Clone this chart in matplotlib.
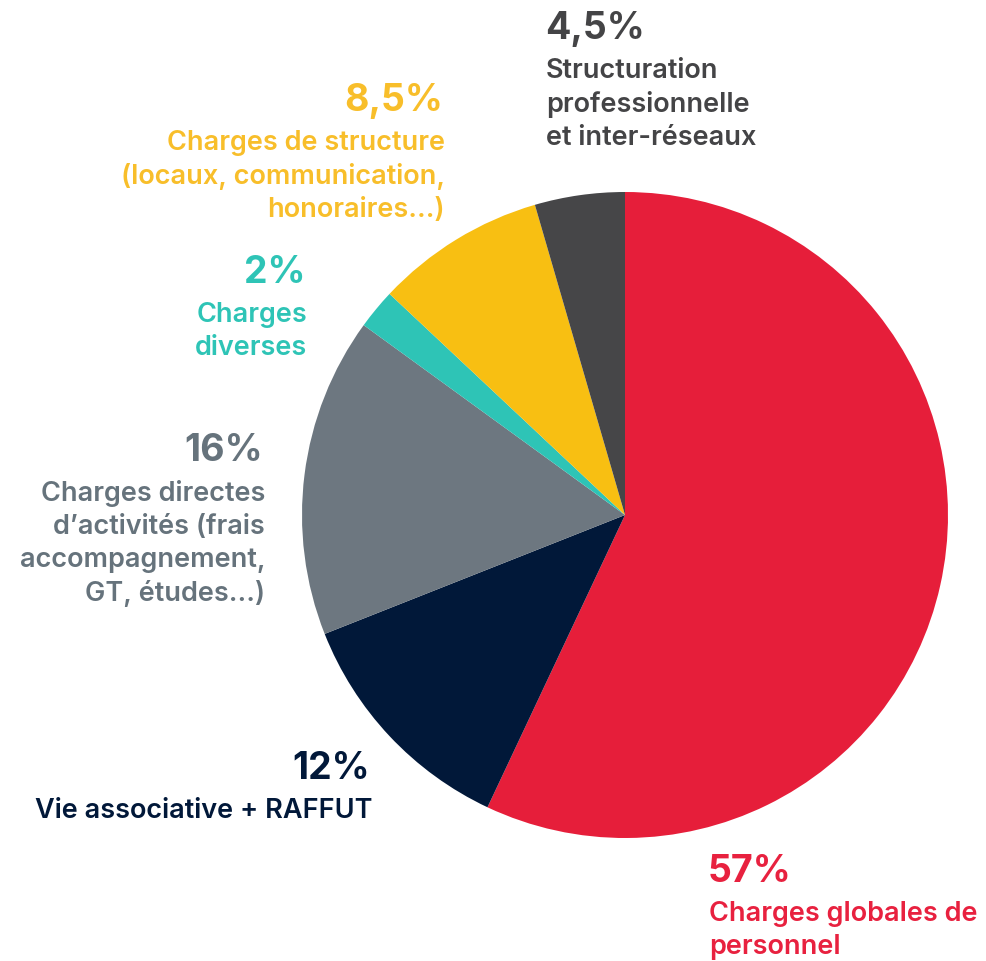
import matplotlib.pyplot as plt

# slices, clockwise from 12 o'clock
shares = [57, 12, 16, 2, 8.5, 4.5]
pct_labels = ["57%", "12%", "16%", "2%", "8,5%", "4,5%"]
descriptions = [
    "Charges globales de\npersonnel",
    "Vie associative + RAFFUT",
    "Charges directes\nd\u2019activités (frais\naccompagnement,\nGT, études...)",
    "Charges\ndiverses",
    "Charges de structure\n(locaux, communication,\nhonoraires...)",
    "Structuration\nprofessionnelle\net inter-réseaux",
]
colors = ["#E61E3A", "#011839", "#6D7780", "#2EC4B6", "#F8BF12", "#464648"]
text_colors = ["#E8213F", "#011839", "#66737C", "#2EC4B6", "#F8BE2A", "#444446"]

# label anchors in pixel coords (x, y of percent centre, alignment)
anchors = [
    (708, 872, "left"),
    (370, 769, "right"),
    (263, 451, "right"),
    (305, 273, "right"),
    (443, 101, "right"),
    (545, 29, "left"),
]

W, H = 986, 962
fig = plt.figure(figsize=(W / 100, H / 100), dpi=100)
ax = fig.add_axes([0, 0, 1, 1])

ax.pie(shares, colors=colors, startangle=90, counterclock=False,
       center=(625, H - 516), radius=323, frame=True,
       wedgeprops=dict(linewidth=0))
ax.set_xlim(0, W)
ax.set_ylim(0, H)
ax.set_aspect("equal")
ax.axis("off")

font = "Inter"
for pct, desc, col, (x, y, ha) in zip(pct_labels, descriptions, text_colors, anchors):
    ax.text(x, H - y, pct, ha=ha, va="center", color=col,
            fontsize=27, fontweight="bold", family=font)
    ax.text(x + (1 if ha == "left" else 2), H - y - 29, desc, ha=ha, va="top",
            color=col, fontsize=19.5, fontweight="semibold", family=font,
            linespacing=1.34, multialignment=ha)

fig.savefig("out.png", dpi=100)
